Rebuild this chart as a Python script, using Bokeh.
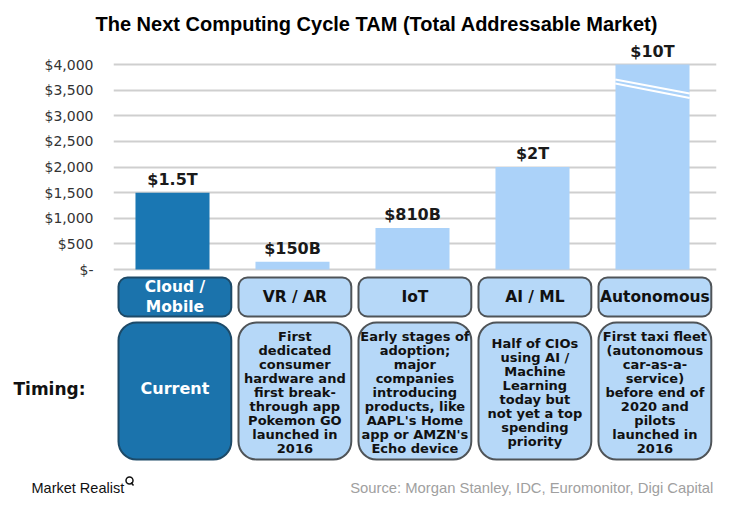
from bokeh.plotting import figure
from bokeh.layouts import column
from bokeh.models import Range1d, FixedTicker, Title, LinearAxis
from bokeh.core.properties import value
from bokeh.embed import file_html
from bokeh.resources import INLINE

# ---------------- data ----------------
categories = ["Cloud /\nMobile", "VR / AR", "IoT", "AI / ML", "Autonomous"]
# TAM in $ billions (Autonomous = $10T, drawn capped at the axis top with a break)
tam_plotted = [1500, 150, 810, 2000, 4000]
tam_labels = ["$1.5T", "$150B", "$810B", "$2T", "$10T"]
timing = [
    "Current",
    "First\ndedicated\nconsumer\nhardware and\nfirst break-\nthrough app\nPokemon GO\nlaunched in\n2016",
    "Early stages of\nadoption;\nmajor\ncompanies\nintroducing\nproducts, like\nAAPL's Home\napp or AMZN's\nEcho device",
    "Half of CIOs\nusing AI /\nMachine\nLearning\ntoday but\nnot yet a top\nspending\npriority",
    "First taxi fleet\n(autonomous\ncar-as-a-\nservice)\nbefore end of\n2020 and\npilots\nlaunched in\n2016",
]
y_ticks = [0, 500, 1000, 1500, 2000, 2500, 3000, 3500, 4000]
y_tick_labels = ["$-", "$500", "$1,000", "$1,500", "$2,000", "$2,500", "$3,000", "$3,500", "$4,000"]
source_text = "Source:  Morgan Stanley, IDC, Euromonitor, Digi Capital"
brand_text = "Market Realist"

# ---------------- styling / layout ----------------
DARK_BAR = "#1a77b3"
LIGHT_BAR = "#abd2f9"
DARK_BOX = "#1b73ac"
LIGHT_BOX = "#b6d8f8"
DARK_EDGE = "#1d4a68"
LIGHT_EDGE = "#4f5458"

PX = 205 / 4000.0          # pixels per $B
TOP = 38                   # page row of the frame top
MAIN_H = 473               # height of the main chart canvas


def Y(py):                 # page pixel row -> data y
    return (269 - py) / PX


def X(px):                 # page pixel column -> data x
    return (px - 172) / 120.0


xs = list(range(len(categories)))
is_first = [i == 0 for i in xs]
bar_colors = [DARK_BAR if f else LIGHT_BAR for f in is_first]
box_fill = [DARK_BOX if f else LIGHT_BOX for f in is_first]
box_edge = [DARK_EDGE if f else LIGHT_EDGE for f in is_first]
txt_col = ["#ffffff" if f else "#111111" for f in is_first]

p = figure(width=755, height=MAIN_H, output_backend="svg", toolbar_location=None,
           x_range=Range1d(X(113), X(716)), y_range=Range1d(Y(MAIN_H), Y(TOP)),
           min_border_left=113, min_border_right=39, min_border_top=TOP,
           min_border_bottom=0, background_fill_color="white",
           border_fill_color="white", title=None)
p.outline_line_color = None
p.frame_align = False

p.add_layout(Title(text="The Next Computing Cycle TAM (Total Addressable Market)",
                   align="left", offset=-18, text_font="Liberation Sans",
                   text_font_style="bold", text_font_size="20px",
                   text_color="#000000", standoff=8), "above")

p.xaxis.visible = False
p.xgrid.visible = False
p.yaxis.ticker = FixedTicker(ticks=y_ticks)
p.ygrid.ticker = FixedTicker(ticks=y_ticks)
p.yaxis.major_label_overrides = {t: l for t, l in zip(y_ticks, y_tick_labels)}
p.yaxis.axis_line_color = None
p.yaxis.major_tick_line_color = None
p.yaxis.minor_tick_line_color = None
p.yaxis.major_tick_out = 0
p.yaxis.major_tick_in = 0
p.yaxis.major_label_standoff = 20
p.yaxis.major_label_text_font = "DejaVu Sans"
p.yaxis.major_label_text_font_size = "14px"
p.yaxis.major_label_text_color = "#333333"
p.ygrid.grid_line_color = "#cfcfcf"
p.ygrid.grid_line_width = 2

# "Timing:" row header, drawn as a second left axis with a single tick
TIMING_Y = -2340
timing_axis = LinearAxis(ticker=FixedTicker(ticks=[TIMING_Y]),
                         major_label_overrides={TIMING_Y: "Timing:"},
                         axis_line_color=None, major_tick_line_color=None,
                         minor_tick_line_color=None, major_tick_out=0,
                         major_tick_in=0, major_label_standoff=-44,
                         major_label_text_font="DejaVu Sans",
                         major_label_text_font_style="bold",
                         major_label_text_font_size="17px",
                         major_label_text_color="#111111")
p.add_layout(timing_axis, "left")

# bars
p.vbar(x=xs, top=tam_plotted, bottom=0, width=0.617, fill_color=bar_colors,
       line_color=None)

# axis-break marks on the Autonomous bar
bx = xs[4]
p.segment(x0=[bx - 0.31, bx - 0.31], y0=[Y(79), Y(83)],
          x1=[bx + 0.31, bx + 0.31], y1=[Y(93), Y(97.5)],
          line_color="white", line_width=2)

# value labels
p.text(x=xs, y=tam_plotted, text=tam_labels, text_align="center",
       text_baseline="bottom", y_offset=-4, text_font=value("DejaVu Sans"),
       text_font_style="bold", text_font_size="16px", text_color="#1a1a1a")

# category boxes
cx = [x + 0.02 for x in xs]
p.quad(left=[c - 0.47 for c in cx], right=[c + 0.47 for c in cx],
       top=Y(277), bottom=Y(316), fill_color=box_fill, line_color=box_edge,
       line_width=2, border_radius=9)
p.text(x=cx, y=Y(296.5), text=categories, text_align="center",
       text_baseline="middle", text_font=value("DejaVu Sans"),
       text_font_style="bold", text_font_size="15.5px", text_color=txt_col,
       text_line_height=1.13)

# timing boxes
p.quad(left=[c - 0.47 for c in cx], right=[c + 0.47 for c in cx],
       top=Y(322), bottom=Y(459), fill_color=box_fill, line_color=box_edge,
       line_width=2, border_radius=18)
p.text(x=cx[:1], y=Y(388), text=timing[:1], text_align="center",
       text_baseline="middle", text_font=value("DejaVu Sans"),
       text_font_style="bold", text_font_size="16px", text_color="#ffffff")
p.text(x=cx[1:], y=Y(392), text=timing[1:], text_align="center",
       text_baseline="middle", text_font=value("DejaVu Sans"),
       text_font_style="bold", text_font_size="13px", text_color="#111111",
       text_line_height=0.94)

# ---------------- footer strip (page pixel coordinates) ----------------
f = figure(width=755, height=507 - MAIN_H, output_backend="svg",
           toolbar_location=None, x_range=Range1d(0, 755),
           y_range=Range1d(507, MAIN_H), min_border=0, title=None,
           background_fill_color="white", border_fill_color="white")
f.outline_line_color = None
f.frame_align = False
f.axis.visible = False
f.grid.visible = False
f.text(x=[31], y=[487], text=[brand_text], text_baseline="middle",
       text_font=value("Liberation Sans"), text_font_size="14.5px",
       text_color="#111111")
f.scatter(x=[129], y=[480], marker="circle", size=7, fill_color=None,
          line_color="#111111", line_width=1.5)
f.segment(x0=[130.5], y0=[482], x1=[133], y1=[485], line_color="#111111",
          line_width=1.5)
f.text(x=[717], y=[487], text=[source_text], text_align="right",
       text_baseline="middle", text_font=value("Liberation Sans"),
       text_font_size="14.8px", text_color="#a0a0a0")

layout = column(p, f, spacing=0)
open("out.html", "w").write(file_html(layout, INLINE))
